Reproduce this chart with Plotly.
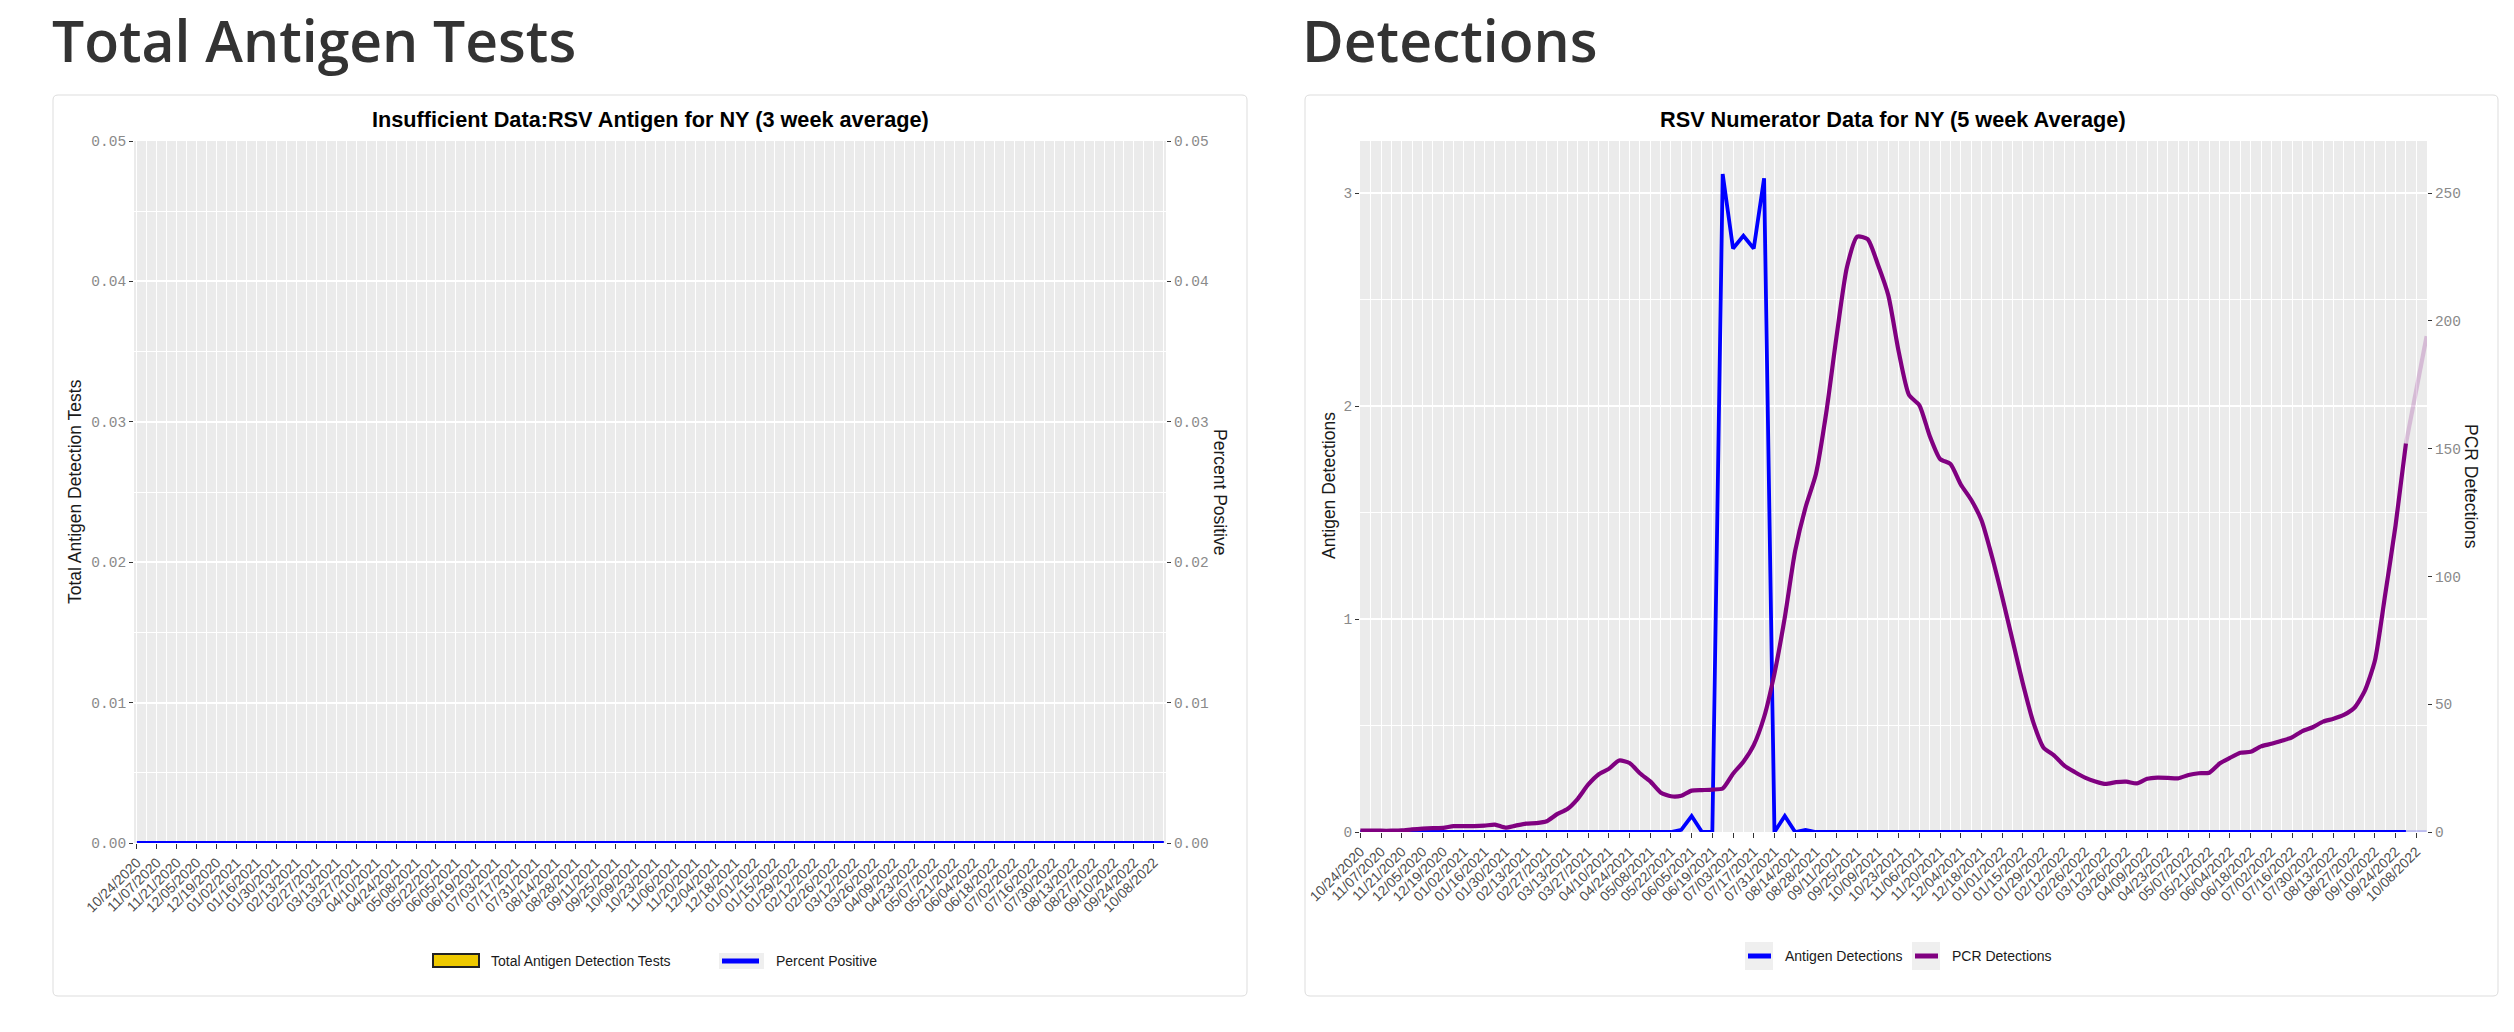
import pandas as pd
import plotly.graph_objects as go

W, H = 2514, 1032

# weekly reporting dates and the fortnightly axis labels
week_dates = pd.date_range("2020-10-24", "2022-10-15", freq="7D")
tick_dates = pd.date_range("2020-10-24", "2022-10-08", freq="14D")
tick_labels = [d.strftime("%m/%d/%Y") for d in tick_dates]

# left panel: no antigen test data for NY
antigen_tests = [0] * len(week_dates)
percent_positive = [0.0] * len(week_dates)
pct_ticks = [0, 0.01, 0.02, 0.03, 0.04, 0.05]
pct_labels = ["0.00", "0.01", "0.02", "0.03", "0.04", "0.05"]

# right panel: 5 week averages
antigen_detections = [
    0, 0, 0, 0, 0, 0, 0, 0, 0, 0, 0, 0, 0,
    0, 0, 0, 0, 0, 0, 0, 0, 0, 0, 0, 0, 0,
    0, 0, 0, 0, 0, 0.01, 0.075, 0, 0, 3.09, 2.74, 2.80, 2.74,
    3.07, 0, 0.075, 0, 0.01, 0, 0, 0, 0, 0, 0, 0, 0,
    0, 0, 0, 0, 0, 0, 0, 0, 0, 0, 0, 0, 0,
    0, 0, 0, 0, 0, 0, 0, 0, 0, 0, 0, 0, 0,
    0, 0, 0, 0, 0, 0, 0, 0, 0, 0, 0, 0, 0,
    0, 0, 0, 0, 0, 0, 0, 0, 0, 0, 0, 0, 0,
]
pcr_detections = [
    0.5, 0.5, 0.5, 0.5, 0.6, 1.0, 1.3, 1.5, 1.6, 2.3, 2.3, 2.3, 2.5,
    2.9, 1.7, 2.5, 3.3, 3.5, 4.2, 7.0, 9.0, 13.0, 18.5, 22.5, 24.7, 28.0,
    27.0, 23.0, 19.8, 15.5, 14.0, 14.2, 16.2, 16.4, 16.6, 17.0, 22.8, 27.5, 34.0,
    45, 62, 84, 110, 127, 140, 164, 194, 221, 233, 232, 222, 210,
    188, 171, 167, 155, 146, 144, 136, 130, 122, 108, 92, 75, 58,
    43, 33, 30, 26, 23.5, 21.3, 19.8, 18.8, 19.5, 19.7, 19.0, 20.8, 21.3,
    21.2, 21.0, 22.3, 23.0, 23.2, 26.8, 29.0, 31.0, 31.4, 33.5, 34.5, 35.7, 37.0,
    39.5, 41.0, 43.2, 44.3, 45.8, 48.5, 55, 67, 93, 120, 152, 173, 194,
]
LAST_FULL = 101  # later weeks are incomplete and drawn faded
ag_ticks = [0, 1, 2, 3]
pcr_ticks = [0, 50, 100, 150, 200, 250]

BLUE = "#0000FF"
PURPLE = "#800080"
GOLD = "#EEC900"
PANEL = "#EBEBEB"
KEYBG = "#EFEFEF"
SANS = "Liberation Sans"
MONO = "Liberation Mono"


def px(x):
    return x / W


def py(y):
    return 1 - y / H


def card_path(x0, y0, x1, y1, r=5):
    pts = [
        f"M{px(x0 + r)},{py(y0)}", f"L{px(x1 - r)},{py(y0)}",
        f"Q{px(x1)},{py(y0)} {px(x1)},{py(y0 + r)}", f"L{px(x1)},{py(y1 - r)}",
        f"Q{px(x1)},{py(y1)} {px(x1 - r)},{py(y1)}", f"L{px(x0 + r)},{py(y1)}",
        f"Q{px(x0)},{py(y1)} {px(x0)},{py(y1 - r)}", f"L{px(x0)},{py(y0 + r)}",
        f"Q{px(x0)},{py(y0)} {px(x0 + r)},{py(y0)}", "Z",
    ]
    return " ".join(pts)


fig = go.Figure()

# ---- left: total antigen tests ----
fig.add_trace(go.Bar(
    x=week_dates, y=antigen_tests, name="Total Antigen Detection Tests",
    marker=dict(color=GOLD, line=dict(width=0)),
    xaxis="x", yaxis="y", showlegend=False,
))
fig.add_trace(go.Scatter(
    x=week_dates, y=percent_positive, name="Percent Positive", mode="lines",
    line=dict(color=BLUE, width=4), xaxis="x", yaxis="y3",
    cliponaxis=False, showlegend=False,
))

# ---- right: detections ----
full = slice(0, LAST_FULL + 1)
tail = slice(LAST_FULL, None)
fig.add_trace(go.Scatter(
    x=week_dates[full], y=antigen_detections[full], name="Antigen Detections",
    mode="lines", line=dict(color=BLUE, width=3.8),
    xaxis="x2", yaxis="y2", cliponaxis=False, showlegend=False,
))
fig.add_trace(go.Scatter(
    x=week_dates[tail], y=antigen_detections[tail], name="Antigen Detections",
    mode="lines", line=dict(color=BLUE, width=3.8), opacity=0.2,
    xaxis="x2", yaxis="y2", cliponaxis=False, showlegend=False,
))
fig.add_trace(go.Scatter(
    x=week_dates[full], y=pcr_detections[full], name="PCR Detections",
    mode="lines", line=dict(color=PURPLE, width=4.2, shape="spline", smoothing=0.6),
    xaxis="x2", yaxis="y4", cliponaxis=False, showlegend=False,
))
fig.add_trace(go.Scatter(
    x=week_dates[tail], y=pcr_detections[tail], name="PCR Detections",
    mode="lines", line=dict(color=PURPLE, width=4.2), opacity=0.2,
    xaxis="x2", yaxis="y4", cliponaxis=False, showlegend=False,
))

xcommon = dict(
    type="date", tickmode="array", tickvals=tick_dates, ticktext=tick_labels,
    tickangle=-45, tickfont=dict(family=SANS, size=14, color="#4d4d4d"),
    ticks="outside", ticklen=5, tickcolor="#333333", tickwidth=1.2,
    showgrid=True, gridcolor="white", gridwidth=1.3,
    minor=dict(tickmode="linear", tick0="2020-10-24", dtick=7 * 86400000,
               showgrid=True, gridcolor="white", gridwidth=1.1, ticks=""),
    zeroline=False, showline=False, fixedrange=True, automargin=False,
)
ycommon = dict(
    tickmode="array", tickfont=dict(family=MONO, size=14.5, color="#8a8a8a"),
    ticks="outside", ticklen=4, tickcolor="#333333", tickwidth=1.2,
    zeroline=False, showline=False, fixedrange=True, automargin=False,
)

fig.update_layout(
    width=W, height=H,
    margin=dict(l=0, r=0, t=0, b=0, pad=0, autoexpand=False),
    paper_bgcolor="white", plot_bgcolor="rgba(0,0,0,0)",
    bargap=0.1, hovermode="closest", showlegend=False,
    xaxis=dict(xcommon, domain=[px(134), px(1166)], anchor="y",
               range=["2020-10-22", "2022-10-16 12:00"]),
    yaxis=dict(ycommon, domain=[py(843), py(141)], anchor="x", range=[0, 0.05],
               tickvals=pct_ticks, ticktext=pct_labels,
               showgrid=True, gridcolor="white", gridwidth=1.6,
               minor=dict(tickmode="linear", tick0=0, dtick=0.005, showgrid=True,
                          gridcolor="white", gridwidth=0.8, ticks="")),
    yaxis3=dict(ycommon, overlaying="y", side="right", anchor="x", range=[0, 0.05],
                tickvals=pct_ticks, ticktext=pct_labels, showgrid=False),
    xaxis2=dict(xcommon, domain=[px(1360), px(2427)], anchor="y2",
                range=["2020-10-23 18:00", "2022-10-15 06:00"]),
    yaxis2=dict(ycommon, domain=[py(832), py(141)], anchor="x2", range=[0, 3.245],
                tickvals=ag_ticks, ticktext=[str(v) for v in ag_ticks],
                showgrid=True, gridcolor="white", gridwidth=1.6,
                minor=dict(tickmode="linear", tick0=0, dtick=0.5, showgrid=True,
                           gridcolor="white", gridwidth=0.8, ticks="")),
    yaxis4=dict(ycommon, overlaying="y2", side="right", anchor="x2",
                range=[0, 3.245 * 250 / 3], tickvals=pcr_ticks,
                ticktext=[str(v) for v in pcr_ticks], showgrid=False),
)

shapes = [
    dict(type="path", xref="paper", yref="paper", path=card_path(53, 95, 1247, 996),
         fillcolor="white", line=dict(color="#dddddd", width=1), layer="below"),
    dict(type="path", xref="paper", yref="paper", path=card_path(1305, 95, 2498, 996),
         fillcolor="white", line=dict(color="#dddddd", width=1), layer="below"),
    dict(type="rect", xref="x domain", yref="y domain", x0=0, x1=1, y0=0, y1=1,
         fillcolor=PANEL, line=dict(width=0), layer="below"),
    dict(type="rect", xref="x2 domain", yref="y2 domain", x0=0, x1=1, y0=0, y1=1,
         fillcolor=PANEL, line=dict(width=0), layer="below"),
    # legend keys
    dict(type="rect", xref="paper", yref="paper", x0=px(433), x1=px(479), y0=py(967), y1=py(954),
         fillcolor=GOLD, line=dict(color="#222222", width=2)),
    dict(type="rect", xref="paper", yref="paper", x0=px(719), x1=px(764), y0=py(969), y1=py(953),
         fillcolor=KEYBG, line=dict(width=0)),
    dict(type="line", xref="paper", yref="paper", x0=px(722), x1=px(759), y0=py(961), y1=py(961),
         line=dict(color=BLUE, width=5)),
    dict(type="rect", xref="paper", yref="paper", x0=px(1745), x1=px(1773), y0=py(970), y1=py(942),
         fillcolor=KEYBG, line=dict(width=0)),
    dict(type="line", xref="paper", yref="paper", x0=px(1748), x1=px(1771), y0=py(956), y1=py(956),
         line=dict(color=BLUE, width=5)),
    dict(type="rect", xref="paper", yref="paper", x0=px(1912), x1=px(1940), y0=py(970), y1=py(942),
         fillcolor=KEYBG, line=dict(width=0)),
    dict(type="line", xref="paper", yref="paper", x0=px(1915), x1=px(1938), y0=py(956), y1=py(956),
         line=dict(color=PURPLE, width=5)),
]
fig.update_layout(shapes=shapes)


def note(text, x, y, size, xanchor="center", angle=0, family=SANS, color="#1a1a1a", weight="normal"):
    fig.add_annotation(
        text=text, x=px(x), y=py(y), xref="paper", yref="paper",
        xanchor=xanchor, yanchor="middle", showarrow=False, textangle=angle,
        font=dict(family=family, size=size, color=color, weight=weight),
    )


note("Total Antigen Tests", 50, 40, 57, xanchor="left", family="Open Sans", color="#333333", weight=600)
note("Detections", 1300, 40, 57, xanchor="left", family="Open Sans", color="#333333", weight=600)
note("Insufficient Data:RSV Antigen for NY (3 week average)", 650, 120, 21.7, color="black", weight="bold")
note("RSV Numerator Data for NY (5 week Average)", 1893, 120, 21.7, color="black", weight="bold")
note("Total Antigen Detection Tests", 75, 492, 17.5, angle=-90)
note("Percent Positive", 1220, 492, 17.5, angle=90)
note("Antigen Detections", 1329, 486, 17.5, angle=-90)
note("PCR Detections", 2471, 486, 17.5, angle=90)
note("Total Antigen Detection Tests", 489, 961, 14, xanchor="left")
note("Percent Positive", 774, 961, 14, xanchor="left")
note("Antigen Detections", 1783, 956, 14, xanchor="left")
note("PCR Detections", 1950, 956, 14, xanchor="left")

fig.write_html(
    "out.html",
    config={"displayModeBar": False},
    post_script="document.body.style.margin='0';",
)
